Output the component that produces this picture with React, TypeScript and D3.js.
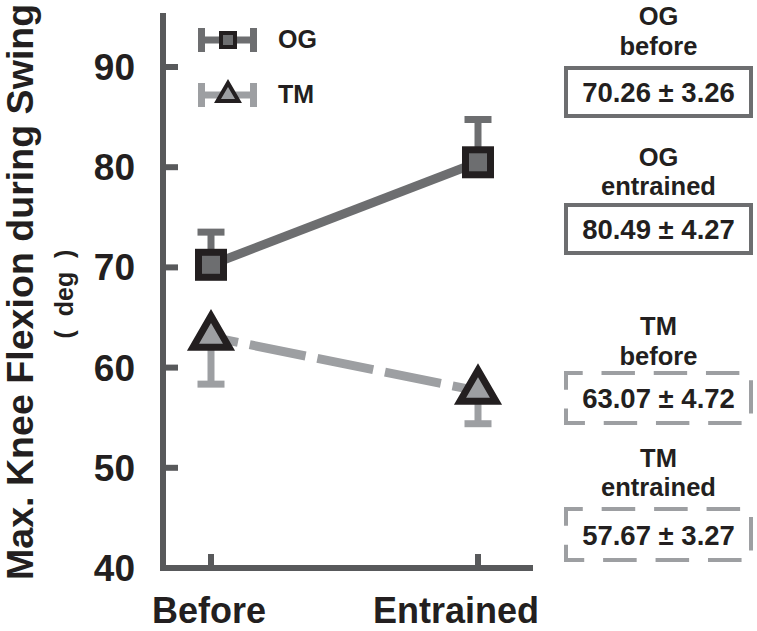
import * as React from 'react'
import * as d3 from 'd3'

const conditions = ['Before', 'Entrained']
const conditionTags = ['before', 'entrained']
const ogMeans = [70.26, 80.49]
const ogSD = [3.26, 4.27]
const tmMeans = [63.07, 57.67]
const tmSD = [4.72, 3.27]
const yTicks = [40, 50, 60, 70, 80, 90]

const FONT = '"Liberation Sans", Arial, Helvetica, sans-serif'
const AXIS_COLOR = '#58595b'
const OG_COLOR = '#6d6e70'
const TM_COLOR = '#9d9fa2'
const MARK_STROKE = '#231f20'
const TEXT_COLOR = '#231f20'

function trianglePath(cx: number, cy: number, w: number) {
    const h = w * Math.sqrt(3) / 2
    return `M${cx},${cy - 2 * h / 3}L${cx + w / 2},${cy + h / 3}L${cx - w / 2},${cy + h / 3}Z`
}

// dashed rectangle, pattern fitted to the perimeter so the corners get dashes
function DashedBox(props: { x: number, y: number, w: number, h: number, color: string }) {
    const { x, y, w, h, color } = props
    const perim = 2 * (w + h)
    const n = 9
    const period = perim / n
    const dash = period * 0.64
    return <rect x={x} y={y} width={w} height={h} fill="none" stroke={color} strokeWidth={4}
        strokeDasharray={`${dash} ${period - dash}`} strokeDashoffset={dash / 2} />
}

export default function App() {
    const W = 757
    const H = 631

    const x = d3.scalePoint<string>().domain(conditions).range([211, 478])
    const y = d3.scaleLinear().domain([40, 90]).range([568, 67])

    const axisLeft = 163
    const axisBottom = y(40)
    const axisTop = y(95.4)
    const axisRight = 533

    const line = d3.line<number>().x((_, i) => x(conditions[i]) as number).y(v => y(v))

    const boxX = 566
    const boxW = 185
    const boxCX = boxX + boxW / 2

    const summaries = [
        { group: 'OG', tag: conditionTags[0], mean: ogMeans[0], sd: ogSD[0], top: 25, boxY: 68, boxH: 48, dashed: false },
        { group: 'OG', tag: conditionTags[1], mean: ogMeans[1], sd: ogSD[1], top: 166, boxY: 205, boxH: 48, dashed: false },
        { group: 'TM', tag: conditionTags[0], mean: tmMeans[0], sd: tmSD[0], top: 335, boxY: 373, boxH: 50, dashed: true },
        { group: 'TM', tag: conditionTags[1], mean: tmMeans[1], sd: tmSD[1], top: 467, boxY: 509, boxH: 51, dashed: true },
    ]

    return <>
        <style>{`body{margin:0}`}</style>
        <svg width={W} height={H} viewBox={`0 0 ${W} ${H}`} style={{ display: 'block' }} fontFamily={FONT} fontWeight="bold">
            <rect width={W} height={H} fill="#fff" />

            {/* y axis title */}
            <text transform={`translate(33 580) rotate(-90)`} fontSize={37.6} fill={TEXT_COLOR}>Max. Knee Flexion during Swing</text>
            <text transform={`translate(73 294) rotate(-90)`} fontSize={25} textAnchor="middle" fill={TEXT_COLOR}
                style={{ whiteSpace: 'pre' }}>(  deg  )</text>

            {/* axes */}
            <path d={`M${axisLeft},${axisTop}V${axisBottom}H${axisRight}`} fill="none" stroke={AXIS_COLOR} strokeWidth={6} strokeLinejoin="miter" />
            {yTicks.filter(t => t > 40).map(t =>
                <line key={t} x1={axisLeft} x2={178} y1={y(t)} y2={y(t)} stroke={AXIS_COLOR} strokeWidth={6} />
            )}
            {yTicks.map(t =>
                <text key={'l' + t} x={135} y={y(t) + 13} textAnchor="end" fontSize={37} fill={TEXT_COLOR}>{t}</text>
            )}
            {conditions.map(c =>
                <line key={c} x1={x(c)} x2={x(c)} y1={axisBottom} y2={axisBottom - 14} stroke={AXIS_COLOR} strokeWidth={6} />
            )}
            {conditions.map((c, i) =>
                <text key={'x' + c} x={(x(c) as number) + (i === 1 ? -22 : -2)} y={623} textAnchor="middle" fontSize={36} fill={TEXT_COLOR}>{c}</text>
            )}

            {/* lines */}
            <path d={line(ogMeans) as string} fill="none" stroke={OG_COLOR} strokeWidth={9} />
            <path d={line(tmMeans) as string} fill="none" stroke={TM_COLOR} strokeWidth={9} strokeDasharray="57 12" strokeDashoffset={29.5} />

            {/* error bars: OG upward, TM downward */}
            {ogMeans.map((m, i) => {
                const cx = x(conditions[i]) as number
                const ye = y(m + ogSD[i])
                return <g key={'oge' + i}>
                    <line x1={cx} x2={cx} y1={y(m)} y2={ye} stroke={OG_COLOR} strokeWidth={7} />
                    <line x1={cx - 13.5} x2={cx + 13.5} y1={ye} y2={ye} stroke={OG_COLOR} strokeWidth={7} />
                </g>
            })}
            {tmMeans.map((m, i) => {
                const cx = x(conditions[i]) as number
                const ye = y(m - tmSD[i])
                return <g key={'tme' + i}>
                    <line x1={cx} x2={cx} y1={y(m)} y2={ye} stroke={TM_COLOR} strokeWidth={7} />
                    <line x1={cx - 13.5} x2={cx + 13.5} y1={ye} y2={ye} stroke={TM_COLOR} strokeWidth={7} />
                </g>
            })}

            {/* markers */}
            {ogMeans.map((m, i) => {
                const cx = x(conditions[i]) as number
                return <rect key={'ogm' + i} x={cx - 12.5} y={y(m) - 12.5} width={25} height={25}
                    fill={OG_COLOR} stroke={MARK_STROKE} strokeWidth={7} />
            })}
            {tmMeans.map((m, i) => {
                const cx = x(conditions[i]) as number
                return <path key={'tmm' + i} d={trianglePath(cx, y(m), 36)}
                    fill={TM_COLOR} stroke={MARK_STROKE} strokeWidth={7} strokeLinejoin="miter" />
            })}

            {/* legend */}
            <g>
                <line x1={198} x2={257} y1={40} y2={40} stroke={OG_COLOR} strokeWidth={7} />
                <line x1={201.5} x2={201.5} y1={28} y2={52} stroke={OG_COLOR} strokeWidth={7} />
                <line x1={253.5} x2={253.5} y1={28} y2={52} stroke={OG_COLOR} strokeWidth={7} />
                <rect x={221} y={33} width={14} height={14} fill={OG_COLOR} stroke={MARK_STROKE} strokeWidth={4} />
                <text x={278} y={48} fontSize={25} fill={TEXT_COLOR}>OG</text>

                <line x1={198} x2={257} y1={95} y2={95} stroke={TM_COLOR} strokeWidth={7} />
                <line x1={201.5} x2={201.5} y1={83} y2={107} stroke={TM_COLOR} strokeWidth={7} />
                <line x1={253.5} x2={253.5} y1={83} y2={107} stroke={TM_COLOR} strokeWidth={7} />
                <path d={trianglePath(228, 95, 21)} fill={TM_COLOR} stroke={MARK_STROKE} strokeWidth={4} />
                <text x={278} y={103} fontSize={25} fill={TEXT_COLOR}>TM</text>
            </g>

            {/* summary boxes */}
            {summaries.map((s, i) =>
                <g key={'s' + i}>
                    <text x={boxCX} y={s.top} textAnchor="middle" fontSize={25.5} fill={TEXT_COLOR}>{s.group}</text>
                    <text x={boxCX} y={s.top + (s.tag === 'before' ? 29.5 : 28.5)} textAnchor="middle" fontSize={25.5} fill={TEXT_COLOR}>{s.tag}</text>
                    {s.dashed
                        ? <DashedBox x={boxX} y={s.boxY} w={boxW} h={s.boxH} color={TM_COLOR} />
                        : <rect x={boxX} y={s.boxY} width={boxW} height={s.boxH} fill="none" stroke={OG_COLOR} strokeWidth={4} />}
                    <text x={boxCX} y={s.boxY + s.boxH / 2 + 10} textAnchor="middle" fontSize={27.5} fill={TEXT_COLOR}>{`${s.mean.toFixed(2)} ± ${s.sd.toFixed(2)}`}</text>
                </g>
            )}
        </svg>
    </>
}
